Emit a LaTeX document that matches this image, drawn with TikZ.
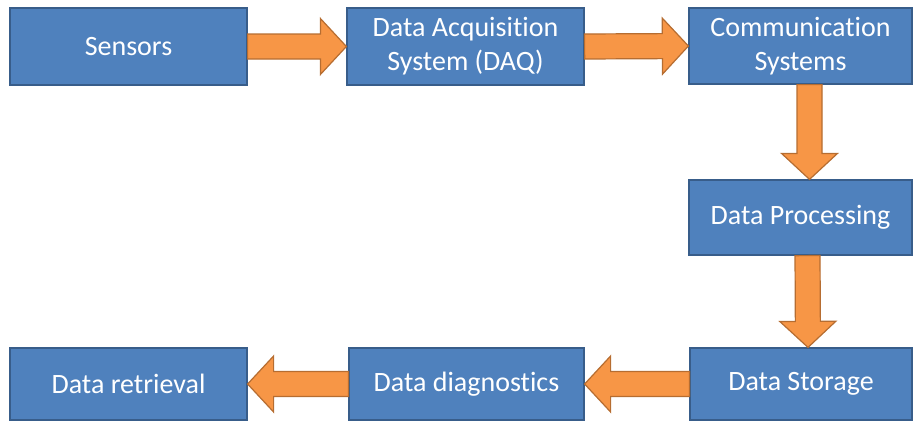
\documentclass[tikz,border=0pt]{standalone}
\usepackage{fontspec}
\setmainfont{Carlito}[Ligatures={NoCommon,NoContextual}]
\usetikzlibrary{positioning,calc}

\definecolor{boxblue}{HTML}{4F81BD}
\definecolor{boxline}{HTML}{385D8A}
\definecolor{arrfill}{HTML}{F79646}
\definecolor{arrline}{HTML}{B66D31}

% fat block arrow between two points
\newcommand{\shaftw}{12.5pt}
\newcommand{\headw}{28pt}
\newcommand{\headlen}{26pt}
\newcommand{\blockarrow}[2]{%
    \coordinate (hb) at ($(#2)!\headlen!(#1)$);
    \draw[blockarr] ($(#1)!\shaftw!90:(#2)$) -- ($(hb)!\shaftw!-90:(#1)$)
        -- ($(hb)!\headw!-90:(#1)$) -- (#2) -- ($(hb)!\headw!90:(#1)$)
        -- ($(hb)!\shaftw!90:(#1)$) -- ($(#1)!\shaftw!-90:(#2)$) -- cycle;}

\begin{document}
\begin{tikzpicture}[x=1pt,y=-1pt]
        \tikzstyle{blk}=[rectangle, draw=boxline, fill=boxblue, line width=1.2pt, text=white, align=center, inner sep=0pt, font=\fontsize{28}{34}\selectfont]
        \tikzstyle{blockarr}=[draw=arrline, fill=arrfill, line width=1.2pt, line join=miter]

        \useasboundingbox (0,0) rectangle (917,423);

        \node[blk, minimum width=237pt, minimum height=77pt] (sens) at (128.5,46.5) {Sensors};
        \node[blk, minimum width=237pt, minimum height=77pt] (daq)  at (465.5,46.5) {Data Acquisition\\System (DAQ)};
        \node[blk, minimum width=223pt, minimum height=76pt] (comm) at (800.5,46) {Communication\\Systems};
        \node[blk, minimum width=223pt, minimum height=75pt] (proc) at (800.5,217.5) {Data Processing};
        \node[blk, minimum width=222pt, minimum height=72pt] (stor) at (801,384) {Data Storage};
        \node[blk, minimum width=235pt, minimum height=72pt] (diag) at (466.5,384) {Data diagnostics};
        \node[blk, minimum width=237pt, minimum height=72pt] (retr) at (128.5,384) {Data retrieval};

        \blockarrow{sens.east}{daq.west}
        \blockarrow{daq.east}{comm.west}
        \blockarrow{[xshift=9pt]comm.south}{[xshift=9pt]proc.north}
        \blockarrow{[xshift=7pt]proc.south}{[xshift=7pt]stor.north}
        \blockarrow{stor.west}{diag.east}
        \blockarrow{diag.west}{retr.east}
\end{tikzpicture}
\end{document}
